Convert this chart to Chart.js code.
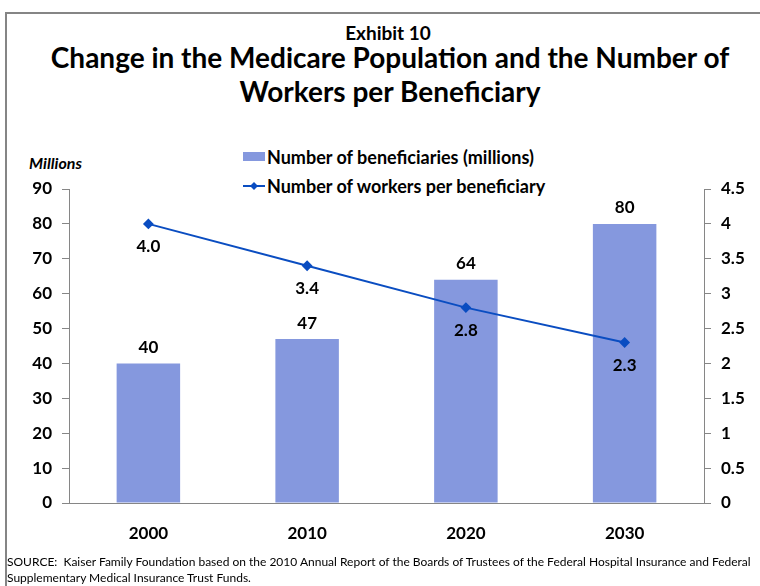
<!DOCTYPE html>
<html lang="en">

<head>
    <meta charset="UTF-8">
    <title>Exhibit 10 - Medicare Population</title>
    <style>
        body { margin: 0; background: #fff; font-family: Lato, "Open Sans", sans-serif; color: #000; }
        #page { position: relative; width: 760px; height: 586px; overflow: hidden; }
        #frame { position: absolute; left: 5px; top: 12px; width: 800px; height: 620px; border: 2px solid #858585; }
        .exhibit { position: absolute; left: 0; width: 776px; top: 21px; text-align: center; font-weight: bold; font-size: 19px; }
        .title { position: absolute; left: 0; width: 780px; top: 40px; text-align: center; font-weight: bold; font-size: 28px; line-height: 34px; }
        .millions { position: absolute; left: 29px; top: 153px; font-weight: bold; font-style: italic; font-size: 16px; }
        #legend { position: absolute; left: 243px; top: 142px; font-weight: bold; font-size: 18px; }
        #legend div { height: 29px; display: flex; align-items: center; }
        #legend .box { display: inline-block; width: 22px; height: 9px; margin-right: 2px; }
        #legend canvas { margin-right: 2px; }
        #chart-box { position: absolute; left: 0; top: 165px; width: 760px; height: 385px; }
        .source { position: absolute; left: 7px; top: 554px; font-size: 12px; line-height: 16px; white-space: nowrap; }
    </style>
</head>

<body>
    <div id="page">
        <div id="frame"></div>
        <div class="exhibit">Exhibit 10</div>
        <div class="title">Change in the Medicare Population and the Number of<br>Workers per Beneficiary</div>
        <div class="millions">Millions</div>
        <div id="legend"></div>
        <div id="chart-box"><canvas id="medicare-chart"></canvas></div>
        <div class="source">SOURCE:&nbsp; Kaiser Family Foundation based on the 2010 Annual Report of the Boards of Trustees of the Federal Hospital Insurance and Federal<br>Supplementary Medical Insurance Trust Funds.</div>
    </div>

    <script src="https://cdn.jsdelivr.net/npm/chart.js"></script>

    <script>
        // chart data
        const years = ['2000', '2010', '2020', '2030'];
        const beneficiaries = [40, 47, 64, 80];
        const workersPerBeneficiary = [4.0, 3.4, 2.8, 2.3];

        const barColor = '#8598DE';
        const lineColor = '#0A4DC1';
        const axisColor = '#868686';
        const labelFont = { family: 'Lato, "Open Sans", sans-serif', size: 17, weight: 'bold' };

        // draws the numbers above bars and below line points
        const valueLabels = {
            id: 'valueLabels',
            afterDatasetsDraw(chart) {
                const ctx = chart.ctx;
                ctx.save();
                ctx.font = 'bold 17px Lato, "Open Sans", sans-serif';
                ctx.fillStyle = '#000';
                ctx.textAlign = 'center';
                ctx.textBaseline = 'middle';
                chart.data.datasets.forEach((ds, i) => {
                    const meta = chart.getDatasetMeta(i);
                    meta.data.forEach((el, j) => {
                        if (ds.type === 'line') {
                            ctx.fillText(ds.data[j].toFixed(1), el.x, el.y + 23);
                        } else {
                            ctx.fillText(ds.data[j], el.x, el.y - 16);
                        }
                    });
                });
                ctx.restore();
            }
        };

        const ctx = document.getElementById('medicare-chart').getContext('2d');
        const chart = new Chart(ctx, {
            type: 'bar',
            data: {
                labels: years,
                datasets: [{
                    type: 'bar',
                    label: 'Number of beneficiaries (millions)',
                    data: beneficiaries,
                    backgroundColor: barColor,
                    yAxisID: 'y',
                    barPercentage: 0.4,
                    categoryPercentage: 1.0,
                    order: 2
                }, {
                    type: 'line',
                    label: 'Number of workers per beneficiary',
                    data: workersPerBeneficiary,
                    borderColor: lineColor,
                    backgroundColor: lineColor,
                    borderWidth: 2,
                    pointStyle: 'rectRot',
                    pointRadius: 4,
                    pointHoverRadius: 4,
                    tension: 0,
                    yAxisID: 'y1',
                    order: 1
                }]
            },
            options: {
                responsive: true,
                maintainAspectRatio: false,
                animation: false,
                layout: { padding: { top: 24, left: 0, right: 0, bottom: 0 } },
                plugins: {
                    legend: { display: false },
                    title: { display: false },
                    tooltip: { enabled: false }
                },
                scales: {
                    x: {
                        grid: { display: false },
                        border: { display: true, color: axisColor, width: 1 },
                        ticks: { color: '#000', font: labelFont, padding: 12 },
                        afterFit(scale) { scale.height = 47; }
                    },
                    y: {
                        position: 'left',
                        min: 0,
                        max: 90,
                        ticks: { stepSize: 10, color: '#000', font: labelFont, padding: 10 },
                        grid: { drawOnChartArea: false, drawTicks: true, tickLength: 7, color: axisColor },
                        border: { color: axisColor, width: 1 },
                        afterFit(scale) { scale.width = 69; }
                    },
                    y1: {
                        position: 'right',
                        min: 0,
                        max: 4.5,
                        ticks: {
                            stepSize: 0.5, color: '#000', font: labelFont, padding: 10,
                            callback: value => String(value)
                        },
                        grid: { drawOnChartArea: false, drawTicks: true, tickLength: 7, color: axisColor },
                        border: { color: axisColor, width: 1 },
                        afterFit(scale) { scale.width = 56; }
                    }
                }
            },
            plugins: [valueLabels]
        });

        // html legend stacked in two rows, built from the datasets
        const legend = document.getElementById('legend');
        chart.data.datasets.forEach(ds => {
            const row = document.createElement('div');
            if (ds.type === 'line') {
                const c = document.createElement('canvas');
                c.width = 22; c.height = 10;
                const g = c.getContext('2d');
                g.strokeStyle = ds.borderColor;
                g.lineWidth = 2;
                g.beginPath(); g.moveTo(0, 5); g.lineTo(22, 5); g.stroke();
                g.fillStyle = ds.borderColor;
                g.beginPath(); g.moveTo(11, 1); g.lineTo(15, 5); g.lineTo(11, 9); g.lineTo(7, 5); g.closePath(); g.fill();
                row.appendChild(c);
            } else {
                const box = document.createElement('span');
                box.className = 'box';
                box.style.background = ds.backgroundColor;
                row.appendChild(box);
            }
            row.appendChild(document.createTextNode(ds.label));
            legend.appendChild(row);
        });
    </script>
</body>

</html>
